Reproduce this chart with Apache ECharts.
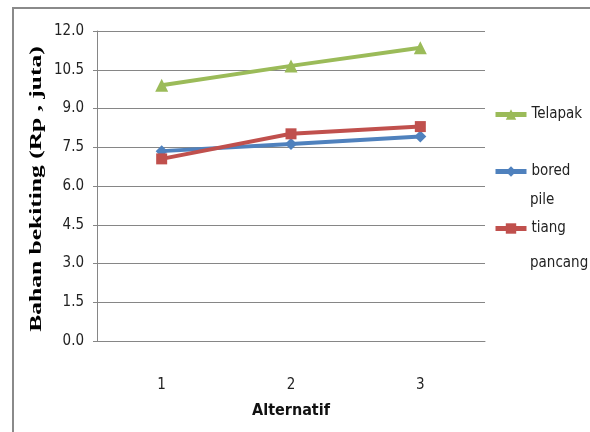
<!DOCTYPE html>
<html>
<head>
<meta charset="utf-8">
<script src="https://cdn.jsdelivr.net/npm/echarts@6/dist/echarts.min.js"></script>
<style>
  html, body { margin: 0; padding: 0; background: #fff; }
  #chart { width: 590px; height: 432px; }
</style>
</head>
<body>
<div id="chart"></div>
<script>
// Biaya bahan bekiting per alternatif pondasi (Rp, juta)
const categories = ['1', '2', '3'];
const telapak = [9.9, 10.65, 11.35];
const boredPile = [7.35, 7.63, 7.92];
const tiangPancang = [7.05, 8.02, 8.3];
const yTicks = { min: 0, max: 12, interval: 1.5 };

const seriesNames = ['Telapak', 'bored pile', 'tiang pancang'];
const legendFirstLine = { 'Telapak': 'Telapak', 'bored pile': 'bored', 'tiang pancang': 'tiang' };
const yTitle = 'Bahan bekiting (Rp , juta)';

const narrowFont = '"Liberation Sans Narrow", "DejaVu Sans Condensed", "Open Sans", sans-serif';

const chart = echarts.init(document.getElementById('chart'));

function lineSeries(name, data, color, symbol, size) {
  return {
    name: name,
    type: 'line',
    data: data,
    symbol: symbol,
    symbolSize: size,
    showSymbol: true,
    lineStyle: { color: color, width: 4 },
    itemStyle: { color: color },
    emphasis: { disabled: true },
    animation: false
  };
}

chart.setOption({
  animation: false,
  backgroundColor: '#ffffff',
  grid: { left: 97, top: 31, width: 388, height: 310 },
  xAxis: {
    type: 'category',
    data: categories,
    boundaryGap: true,
    name: 'Alternatif',
    nameLocation: 'middle',
    nameGap: 62,
    nameTextStyle: { fontFamily: narrowFont, fontSize: 16, fontWeight: 'bold', color: '#111' },
    axisLine: { lineStyle: { color: '#868686', width: 1 } },
    axisTick: { show: false },
    axisLabel: { margin: 37, fontFamily: narrowFont, fontSize: 15, color: '#222' }
  },
  yAxis: {
    type: 'value',
    min: yTicks.min,
    max: yTicks.max,
    interval: yTicks.interval,
    axisLine: { show: true, lineStyle: { color: '#868686', width: 1 } },
    axisTick: { show: true, length: 4, lineStyle: { color: '#868686' } },
    axisLabel: {
      margin: 13,
      fontFamily: narrowFont,
      fontSize: 15,
      color: '#222',
      formatter: v => v.toFixed(1)
    },
    splitLine: { lineStyle: { color: '#868686', width: 1 } }
  },
  legend: {
    orient: 'vertical',
    left: 493,
    top: 107,
    padding: 0,
    itemGap: 42,
    itemWidth: 31,
    itemHeight: 13,
    data: seriesNames,
    formatter: name => legendFirstLine[name],
    lineStyle: { width: 5 },
    textStyle: { fontFamily: narrowFont, fontSize: 15, color: '#222' },
    selectedMode: false
  },
  graphic: [
    {
      type: 'rect',
      shape: { x: 13, y: 8, width: 800, height: 600 },
      style: { fill: 'none', stroke: '#8a8a8a', lineWidth: 2 },
      silent: true
    },
    {
      type: 'text',
      x: 37, y: 189,
      rotation: Math.PI / 2,
      scaleX: 1.5,
      style: {
        text: yTitle,
        font: 'bold 17px "Liberation Serif", "DejaVu Serif", serif',
        fill: '#000',
        textAlign: 'center',
        textVerticalAlign: 'middle'
      }
    },
    {
      type: 'text',
      left: 530, top: 193,
      style: { text: 'pile', font: '15px ' + narrowFont, fill: '#222' }
    },
    {
      type: 'text',
      left: 530, top: 256,
      style: { text: 'pancang', font: '15px ' + narrowFont, fill: '#222' }
    }
  ],
  series: [
    lineSeries('Telapak', telapak, '#9BBB59', 'triangle', 13),
    lineSeries('bored pile', boredPile, '#4F81BD', 'diamond', 12),
    lineSeries('tiang pancang', tiangPancang, '#C0504D', 'rect', 11)
  ]
});
</script>
</body>
</html>
